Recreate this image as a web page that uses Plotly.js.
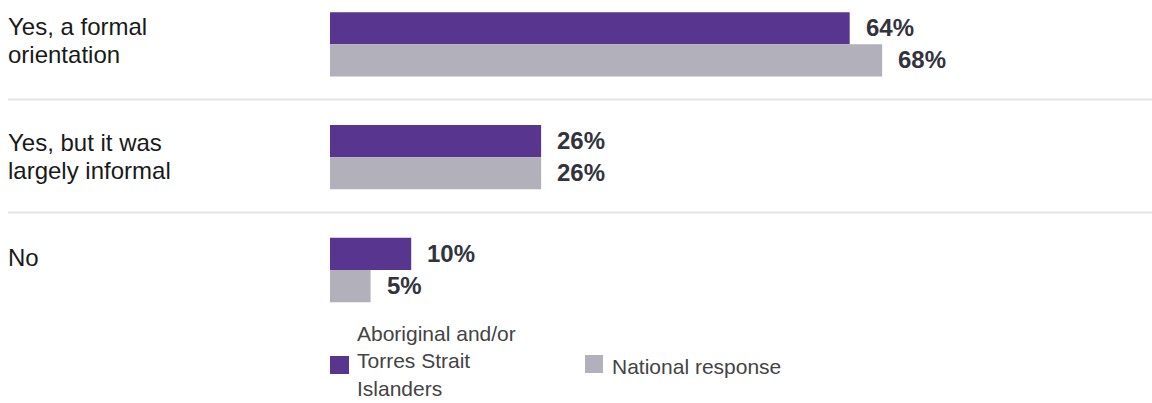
<!DOCTYPE html>
<html>
<head>
<meta charset="utf-8">
<script src="https://cdn.plot.ly/plotly-3.0.1.min.js"></script>
<style>html,body{margin:0;padding:0;background:#fff;}#chart{width:1152px;height:403px;}</style>
</head>
<body>
<div id="chart"></div>
<script>
// ---- data ----
const categories = ["Yes, a formal<br>orientation", "Yes, but it was<br>largely informal", "No"];
const seriesNames = ["Aboriginal and/or Torres Strait Islanders", "National response"];
const indigenousValues = [64, 26, 10];
const nationalValues = [68, 26, 5];
const valueLabelsIndigenous = ["64%", "26%", "10%"];
const valueLabelsNational = ["68%", "26%", "5%"];
const legendLines = [["Aboriginal and/or<br>Torres Strait", "Islanders"], ["National response"]];

// ---- layout helpers ----
const W = 1152, H = 403;
const M = {l: 330, r: 10, t: 0, b: 83};
const PW = W - M.l - M.r, PH = H - M.t - M.b;
const px2x = p => (p - M.l) / PW;
const px2y = p => (M.t + PH - p) / PH;

const colors = ["#58358e", "#b1b0bb"];
const font = "Liberation Sans, Arial, Helvetica, sans-serif";
const catIdx = categories.map((c, i) => i);

const traces = [
  {type: "bar", orientation: "h", name: seriesNames[0], y: catIdx, x: indigenousValues,
   marker: {color: colors[0]}, hoverinfo: "skip", showlegend: false},
  {type: "bar", orientation: "h", name: seriesNames[1], y: catIdx, x: nationalValues,
   marker: {color: colors[1]}, hoverinfo: "skip", showlegend: false}
];

const annotations = [];
const shapes = [];

// category labels (one annotation per line)
const catShift = [18, 15, 13];
categories.forEach((c, i) => {
  c.split("<br>").forEach((line, k) => {
    annotations.push({xref: "paper", yref: "y", x: px2x(6), y: i, xanchor: "left", yanchor: "middle",
      yshift: catShift[i] - 28 * k, text: line, showarrow: false, align: "left",
      font: {family: font, size: 24, color: "#1a1a1a"}});
  });
});

// value labels
const valFont = {family: font, size: 24, color: "#33333d"};
indigenousValues.forEach((v, i) => {
  annotations.push({xref: "x", yref: "y", x: v, y: i, xanchor: "left", yanchor: "middle",
    xshift: 14, yshift: 17, text: "<b>" + valueLabelsIndigenous[i] + "</b>", showarrow: false, font: valFont});
});
nationalValues.forEach((v, i) => {
  annotations.push({xref: "x", yref: "y", x: v, y: i, xanchor: "left", yanchor: "middle",
    xshift: 14, yshift: -15, text: "<b>" + valueLabelsNational[i] + "</b>", showarrow: false, font: valFont});
});

// separators between categories
for (let i = 0; i < categories.length - 1; i++) {
  shapes.push({type: "line", xref: "paper", yref: "y", x0: px2x(8), x1: px2x(1152), y0: i + 0.49, y1: i + 0.49,
    line: {color: "#e3e3e3", width: 2}});
}

// custom legend
const legFont = {family: font, size: 21, color: "#444444"};
shapes.push({type: "rect", xref: "paper", yref: "paper", x0: px2x(330), x1: px2x(349), y0: px2y(374), y1: px2y(356),
  fillcolor: colors[0], line: {width: 0}});
const leg1Y = [347, 388];
legendLines[0].forEach((line, k) => {
  annotations.push({xref: "paper", yref: "paper", x: px2x(355), y: px2y(leg1Y[k]), xanchor: "left", yanchor: "middle",
    text: line, align: "left", showarrow: false, font: legFont});
});
shapes.push({type: "rect", xref: "paper", yref: "paper", x0: px2x(585), x1: px2x(603), y0: px2y(373), y1: px2y(355),
  fillcolor: colors[1], line: {width: 0}});
annotations.push({xref: "paper", yref: "paper", x: px2x(610), y: px2y(366), xanchor: "left", yanchor: "middle",
  text: legendLines[1][0], showarrow: false, font: legFont});

const rowPx = 112.85;
const topVal = -44.3 / rowPx;
const botVal = topVal + PH / rowPx;

const layout = {
  width: W, height: H,
  margin: M,
  paper_bgcolor: "#ffffff", plot_bgcolor: "#ffffff",
  barmode: "group", bargap: 0.43, bargroupgap: 0.0,
  showlegend: false,
  xaxis: {range: [0, 100], visible: false, fixedrange: true},
  yaxis: {type: "linear", range: [botVal, topVal], visible: false, fixedrange: true},
  annotations: annotations,
  shapes: shapes,
  font: {family: font}
};

Plotly.newPlot("chart", traces, layout, {staticPlot: true, displayModeBar: false});
</script>
</body>
</html>
